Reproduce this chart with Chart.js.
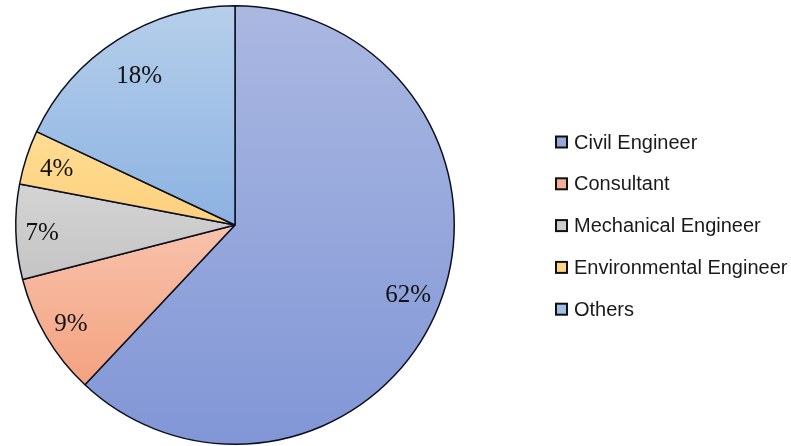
<!DOCTYPE html>
<html lang="en">
<head>
    <meta charset="UTF-8">
    <title>Respondents by Profession</title>
    <script src="https://cdnjs.cloudflare.com/ajax/libs/Chart.js/4.4.1/chart.umd.min.js"></script>
    <style>
        html, body {
            margin: 0;
            padding: 0;
            background: #ffffff;
        }
        #wrap {
            width: 791px;
            height: 446px;
        }
    </style>
</head>
<body>
    <div id="wrap"><canvas id="pie" width="791" height="446"></canvas></div>

    <script>
        // data
        const professions = ['Civil Engineer', 'Consultant', 'Mechanical Engineer', 'Environmental Engineer', 'Others'];
        const shares = [62, 9, 7, 4, 18];

        // slice gradients: light at the top of each slice, darker at the bottom
        const topColors = ['#aab8e1', '#f8c2ac', '#d4d4d4', '#ffdd94', '#b6cfea'];
        const bottomColors = ['#8196d6', '#f3a27f', '#c4c4c4', '#fcd07c', '#8cb2e2'];
        const markerColors = ['#95a7db', '#f5b196', '#cccccc', '#fed686', '#a0c0e6'];
        // how far out along each slice the percentage sits (fraction of radius)
        const labelRadius = [0.85, 0.87, 0.88, 0.855, 0.815];

        const total = shares.reduce((a, b) => a + b, 0);

        // vertical extent of a slice so the gradient spans that slice only
        function sliceRange(i, cy, r) {
            let before = 0;
            for (let k = 0; k < i; k++) before += shares[k];
            const a0 = -Math.PI / 2 + before / total * Math.PI * 2;
            const a1 = a0 + shares[i] / total * Math.PI * 2;
            let ys = [cy, cy + r * Math.sin(a0), cy + r * Math.sin(a1)];
            for (let k = -1; k <= 3; k++) {
                const a = Math.PI / 2 + k * Math.PI;
                if (a > a0 && a < a1) ys.push(cy + r * Math.sin(a));
            }
            return [Math.min(...ys), Math.max(...ys)];
        }

        function sliceFill(ctx) {
            const chart = ctx.chart;
            const area = chart.chartArea;
            const i = ctx.dataIndex;
            if (!area || i === undefined) return topColors[0];
            const cy = (area.top + area.bottom) / 2;
            const r = Math.min(area.width, area.height) / 2;
            const [y0, y1] = sliceRange(i, cy, r);
            const g = chart.ctx.createLinearGradient(0, y0, 0, y1);
            g.addColorStop(0, topColors[i]);
            g.addColorStop(1, bottomColors[i]);
            return g;
        }

        // percentage labels inside slices + legend on the right
        const decorations = {
            id: 'decorations',
            afterDatasetsDraw(chart) {
                const ctx = chart.ctx;
                const meta = chart.getDatasetMeta(0);
                ctx.save();
                ctx.fillStyle = '#111111';
                ctx.font = '25px "Liberation Serif", "Times New Roman", serif';
                ctx.textAlign = 'center';
                ctx.textBaseline = 'middle';
                meta.data.forEach((arc, i) => {
                    const mid = (arc.startAngle + arc.endAngle) / 2;
                    const r = arc.outerRadius * labelRadius[i];
                    ctx.fillText(shares[i] + '%', arc.x + Math.cos(mid) * r, arc.y + Math.sin(mid) * r + 2);
                });

                ctx.font = '20px "Liberation Sans", Arial, sans-serif';
                ctx.textAlign = 'left';
                professions.forEach((name, i) => {
                    const y = 142 + i * 41.8;
                    ctx.fillStyle = markerColors[i];
                    ctx.fillRect(556, y - 5.5, 11, 11);
                    ctx.strokeStyle = '#111111';
                    ctx.lineWidth = 2;
                    ctx.strokeRect(556, y - 5.5, 11, 11);
                    ctx.fillStyle = '#1a1a1a';
                    ctx.fillText(name, 574, y + 1);
                });
                ctx.restore();
            }
        };

        new Chart(document.getElementById('pie'), {
            type: 'pie',
            data: {
                labels: professions,
                datasets: [{
                    data: shares,
                    backgroundColor: sliceFill,
                    borderColor: '#0d0f1e',
                    borderWidth: 1.5
                }]
            },
            options: {
                responsive: false,
                animation: false,
                layout: {
                    padding: { left: 15, top: 5, right: 336, bottom: 1 }
                },
                plugins: {
                    legend: { display: false },
                    tooltip: { enabled: false }
                }
            },
            plugins: [decorations]
        });
    </script>
</body>
</html>
